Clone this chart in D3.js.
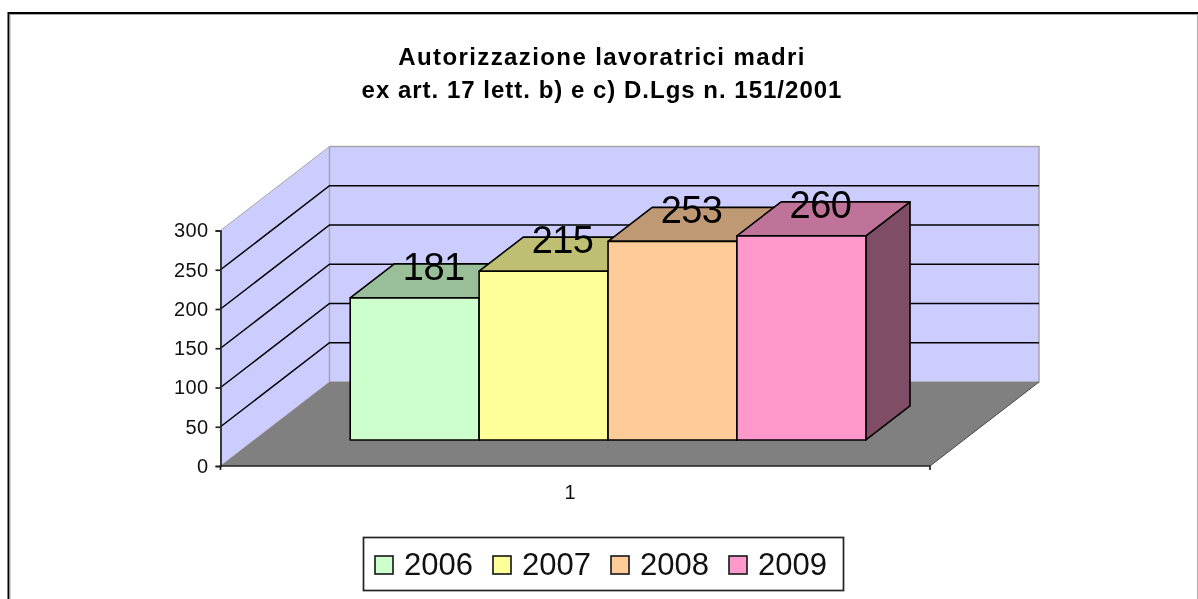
<!DOCTYPE html>
<html>
<head>
<meta charset="utf-8">
<style>
html, body { margin: 0; padding: 0; background: #fff; }
svg { display: block; filter: blur(0.35px); }
text { font-family: "Liberation Sans", Arial, sans-serif; fill: #000; }
.title { font-size: 24px; font-weight: bold; text-anchor: middle; }
.tick text { font-size: 20px; fill: #111; letter-spacing: 0.4px; }
.label { font-size: 38px; letter-spacing: -0.6px; text-anchor: middle; }
.legend-text { font-size: 31px; fill: #111; }
</style>
</head>
<body>
<svg id="chart" width="1198" height="599"></svg>
<script src="https://d3js.org/d3.v7.min.js"></script>
<script>
// data
var titleLines = ["Autorizzazione lavoratrici madri", "ex art. 17 lett. b) e c) D.Lgs n. 151/2001"];
var categories = ["1"];
var years = ["2006", "2007", "2008", "2009"];
var values = [181, 215, 253, 260];
var yTicks = [0, 50, 100, 150, 200, 250, 300];
var barColors = ["#ccffcc", "#ffff99", "#ffcc99", "#ff99cc"];

var svg = d3.select("#chart");

// front plane of the fake 3d box
var left = 220.5, right = 930, bottom = 466, top3d = 230.5;
var depthX = 109, depthY = -84;

var y = d3.scaleLinear().domain([0, 300]).range([bottom, top3d]);
var x = d3.scaleBand().domain(years).range([left, right - 2]).paddingInner(0).paddingOuter(0.744);
var xCat = d3.scaleBand().domain(categories).range([left, right - 10]);

// depth goes 0 (front) to 1 (back wall)
var dx = d3.scaleLinear().domain([0, 1]).range([0, depthX]);
var dy = d3.scaleLinear().domain([0, 1]).range([0, depthY]);
var barFront = 0.31, barBack = 0.715;

function pt(px, v, d) { return [px + dx(d), y(v) + dy(d)]; }
function poly(points) { return points.map(function(p) { return p.join(","); }).join(" "); }

// page frame
svg.append("path").attr("d", "M8.5,599V13H1198").attr("fill", "none").attr("stroke", "#000").attr("stroke-width", 2);
svg.append("path").attr("d", "M10,599V14.5H1198").attr("fill", "none").attr("stroke", "#a8a8a8").attr("stroke-width", 1);
svg.append("line").attr("x1", 1197.5).attr("x2", 1197.5).attr("y1", 14).attr("y2", 599).attr("stroke", "#b0b0b0");

// title, the two lines are spaced a bit differently in the original
svg.selectAll("text.title").data(titleLines).enter().append("text")
  .attr("class", "title")
  .attr("x", 602)
  .attr("y", function(d, i) { return 65 + i * 33; })
  .attr("letter-spacing", function(d, i) { return i ? 1 : 1.4; })
  .text(function(d) { return d; });

// walls
svg.append("polygon")
  .attr("points", poly([pt(left, 0, 0), pt(left, 300, 0), pt(left, 300, 1), pt(left, 0, 1)]))
  .attr("fill", "#ccccff").attr("stroke", "#a6a6a6");
svg.append("polygon")
  .attr("points", poly([pt(left, 0, 1), pt(left, 300, 1), pt(right, 300, 1), pt(right, 0, 1)]))
  .attr("fill", "#ccccff").attr("stroke", "#a6a6a6").attr("stroke-width", 1.5);

// floor
svg.append("polygon")
  .attr("points", poly([pt(left, 0, 0), pt(right, 0, 0), pt(right, 0, 1), pt(left, 0, 1)]))
  .attr("fill", "#808080");
svg.append("line")
  .attr("x1", pt(right, 0, 0)[0]).attr("y1", pt(right, 0, 0)[1])
  .attr("x2", pt(right, 0, 1)[0]).attr("y2", pt(right, 0, 1)[1])
  .attr("stroke", "#4a4a4a");

// gridlines on both walls
var grid = svg.append("g").attr("stroke", "#000").attr("stroke-width", 1.5).attr("fill", "none");
grid.selectAll("polyline").data(yTicks.slice(1, -1)).enter().append("polyline")
  .attr("points", function(d) { return poly([pt(left, d, 0), pt(left, d, 1), pt(right, d, 1)]); });

// value axis
var yAxis = svg.append("g")
  .attr("transform", "translate(" + left + ",0)")
  .call(d3.axisLeft(y).tickValues(yTicks).tickSize(5).tickPadding(7).tickFormat(d3.format("d")));
yAxis.selectAll("path, line").attr("stroke", "#222").attr("stroke-width", 1.7);
yAxis.selectAll("text").attr("font-family", null);

// category axis
svg.append("path")
  .attr("d", "M" + left + "," + (bottom + 4) + "V" + bottom + "H" + right + "V" + (bottom + 4))
  .attr("fill", "none").attr("stroke", "#222").attr("stroke-width", 1.7);
var xAxis = svg.append("g")
  .attr("transform", "translate(0," + bottom + ")")
  .call(d3.axisBottom(xCat).tickSize(0).tickPadding(19));
xAxis.select(".domain").remove();
xAxis.selectAll("text").attr("font-family", null);

// bars, left to right so each one hides the side of the previous
var bars = svg.selectAll("g.bar").data(years).enter().append("g").attr("class", "bar")
  .attr("stroke", "#000").attr("stroke-width", 1.6).attr("stroke-linejoin", "round");

bars.each(function(yr, i) {
  var g = d3.select(this);
  var x0 = x(yr), x1 = x0 + x.bandwidth(), v = values[i], c = d3.color(barColors[i]);
  // side
  g.append("polygon")
    .attr("points", poly([pt(x1, 0, barFront), pt(x1, 0, barBack), pt(x1, v, barBack), pt(x1, v, barFront)]))
    .attr("fill", d3.rgb(c.r * 0.5, c.g * 0.5, c.b * 0.5));
  // top
  g.append("polygon")
    .attr("points", poly([pt(x0, v, barFront), pt(x0, v, barBack), pt(x1, v, barBack), pt(x1, v, barFront)]))
    .attr("fill", d3.rgb(c.r * 0.75, c.g * 0.75, c.b * 0.75));
  // front
  g.append("polygon")
    .attr("points", poly([pt(x0, 0, barFront), pt(x0, v, barFront), pt(x1, v, barFront), pt(x1, 0, barFront)]))
    .attr("fill", barColors[i]);
});

// data labels sit on the bar tops, over everything
svg.selectAll("text.label").data(values).enter().append("text")
  .attr("class", "label")
  .attr("x", function(d, i) { return pt(x(years[i]) + x.bandwidth() / 2, d, barFront)[0] + 19; })
  .attr("y", function(d, i) { return pt(0, d, barFront)[1] - 18; })
  .text(function(d) { return d; });

// legend
var legendX = d3.scalePoint().domain(years).range([375, 729]);
svg.append("rect")
  .attr("x", 363.5).attr("y", 537.5).attr("width", 480).attr("height", 53)
  .attr("fill", "#fff").attr("stroke", "#222").attr("stroke-width", 1.7);
var legend = svg.selectAll("g.legend").data(years).enter().append("g").attr("class", "legend")
  .attr("transform", function(d) { return "translate(" + legendX(d) + ",556)"; });
legend.append("rect")
  .attr("width", 18).attr("height", 18)
  .attr("fill", function(d, i) { return barColors[i]; })
  .attr("stroke", "#222").attr("stroke-width", 1.7);
legend.append("text")
  .attr("class", "legend-text")
  .attr("x", 29).attr("y", 19)
  .text(function(d) { return d; });
</script>
</body>
</html>
